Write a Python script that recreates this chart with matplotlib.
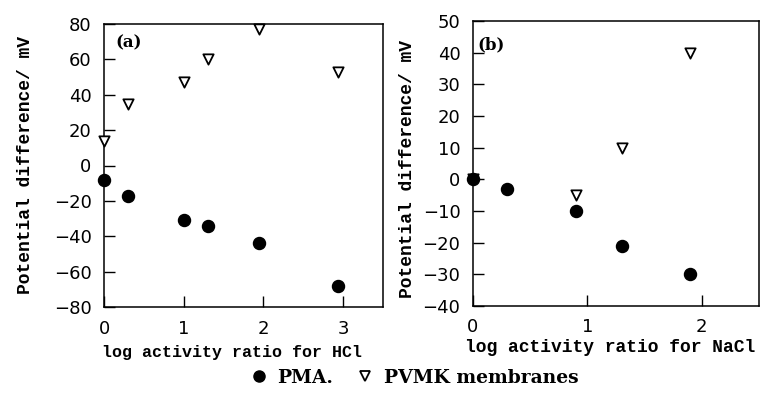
import matplotlib
matplotlib.use('Agg')
import matplotlib.pyplot as plt
from matplotlib.lines import Line2D

# panel (a): HCl
hcl_x_pma  = [0.0, 0.3, 1.0, 1.3, 1.95, 2.93]
hcl_y_pma  = [-8, -17, -31, -34, -44, -68]
hcl_x_pvmk = [0.0, 0.3, 1.0, 1.3, 1.95, 2.93]
hcl_y_pvmk = [14, 35, 47, 60, 77, 53]

# panel (b): NaCl
nacl_x_pma  = [0.0, 0.3, 0.9, 1.3, 1.9]
nacl_y_pma  = [0, -3, -10, -21, -30]
nacl_x_pvmk = [0.0, 0.9, 1.3, 1.9]
nacl_y_pvmk = [0, -5, 10, 40]

ylabel = 'Potential difference/ mV'
lab_font = dict(family='Liberation Mono', weight='bold')
tick_font = 'DejaVu Sans'

fig = plt.figure(figsize=(7.6, 3.94), dpi=100)
ax1 = fig.add_axes([104/760, 1 - 307/394, 279/760, 283/394])
ax2 = fig.add_axes([473/760, 1 - 306/394, 286/760, 285/394])

def style(ax, xlim, ylim, xticks, yticks):
    ax.set_xlim(*xlim)
    ax.set_ylim(*ylim)
    ax.set_xticks(xticks)
    ax.set_yticks(yticks)
    ax.set_yticklabels([str(t).replace('-', '\u2212') for t in yticks])
    ax.tick_params(direction='in', length=8, width=1, labelsize=13,
                   top=False, right=False)
    ax.tick_params(axis='x', pad=9)
    ax.tick_params(axis='y', pad=9)
    for lab in ax.get_xticklabels() + ax.get_yticklabels():
        lab.set_family(tick_font)
    for s in ax.spines.values():
        s.set_linewidth(1.1)

# (a)
ax1.scatter(hcl_x_pvmk, hcl_y_pvmk, marker='v', s=55, facecolors='white',
            edgecolors='black', linewidths=1.3, zorder=3, clip_on=False)
ax1.scatter(hcl_x_pma, hcl_y_pma, marker='o', s=75, color='black', zorder=4,
            clip_on=False)
style(ax1, (0, 3.5), (-80, 80), [0, 1, 2, 3], list(range(-80, 81, 20)))
ax1.set_xlabel('log activity ratio for HCl', fontsize=12, **lab_font)
ax1.set_ylabel(ylabel, fontsize=13, **lab_font)
ax1.xaxis.set_label_coords(0.46, -0.135)
ax1.yaxis.set_label_coords(-0.25, 0.5)
ax1.text(0.04, 0.935, '(a)', transform=ax1.transAxes, fontsize=12,
         fontweight='bold', family='DejaVu Serif', va='center')

# (b)
ax2.scatter(nacl_x_pvmk, nacl_y_pvmk, marker='v', s=55, facecolors='white',
            edgecolors='black', linewidths=1.3, zorder=3, clip_on=False)
ax2.scatter(nacl_x_pma, nacl_y_pma, marker='o', s=75, color='black', zorder=4,
            clip_on=False)
style(ax2, (0, 2.5), (-40, 50), [0, 1, 2], list(range(-40, 51, 10)))
ax2.set_xlabel('log activity ratio for NaCl', fontsize=13, **lab_font)
ax2.set_ylabel(ylabel, fontsize=13, **lab_font)
ax2.xaxis.set_label_coords(0.48, -0.115)
ax2.yaxis.set_label_coords(-0.2, 0.48)
ax2.text(0.015, 0.915, '(b)', transform=ax2.transAxes, fontsize=12,
         fontweight='bold', family='DejaVu Serif', va='center')

# shared legend below
handles = [
    Line2D([], [], marker='o', ls='none', color='black', markersize=8),
    Line2D([], [], marker='v', ls='none', markerfacecolor='white',
           markeredgecolor='black', markeredgewidth=1.3, markersize=7.5),
]
fig.legend(handles, ['PMA.', 'PVMK membranes'], loc='center',
           bbox_to_anchor=(413/760, 1 - 378/394), ncol=2, frameon=False,
           prop=dict(family='DejaVu Serif', weight='bold', size=13.5),
           handletextpad=0.4, columnspacing=1.1, handlelength=1.2)

fig.savefig('out.png', dpi=100)
